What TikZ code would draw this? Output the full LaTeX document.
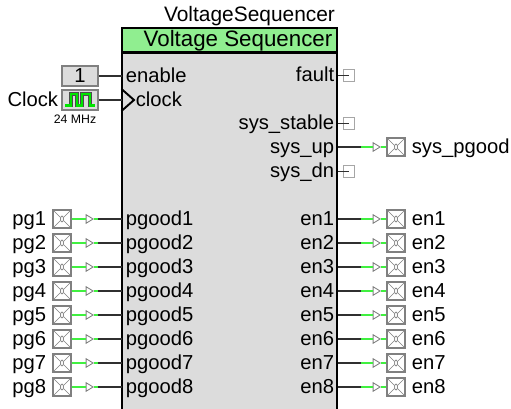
\documentclass[tikz,border=0pt]{standalone}
\usepackage{fontspec}
\setmainfont{Liberation Sans}
\usetikzlibrary{shapes.geometric}
\definecolor{blockgray}{HTML}{DCDCDC}
\definecolor{headgreen}{HTML}{90EE90}
\definecolor{wiregreen}{HTML}{40F040}
\definecolor{wiregray}{HTML}{303030}
\definecolor{pingray}{HTML}{808080}
\tikzset{
  pintext/.style={font=\fontsize{11.5pt}{13pt}\selectfont,inner ysep=0,text height=.3cm,text depth=.04cm},
  leftname/.style={pintext,anchor=west,inner xsep=.08cm},
  rightname/.style={pintext,anchor=east,inner xsep=.06cm},
  pinbox/.style={rectangle,draw=pingray,line width=.7pt,fill=white,minimum size=.36cm,inner sep=0,label distance=.03cm,
    label={[pintext]#1},
    path picture={
      \draw[pingray,line width=.35pt] (path picture bounding box.north west) -- (path picture bounding box.south east);
      \draw[pingray,line width=.35pt] (path picture bounding box.south west) -- (path picture bounding box.north east);
      \draw[pingray,line width=.4pt,fill=white] (path picture bounding box.center) ellipse (.03cm and .06cm);
    }},
  stubbox/.style={rectangle,draw=pingray!70,line width=.5pt,fill=white,minimum size=.23cm,inner sep=0},
  srcbox/.style={rectangle,draw=pingray,line width=.7pt,fill=blockgray,minimum width=.72cm,minimum height=.4cm,inner sep=0},
  bufshape/.style={isosceles triangle,isosceles triangle stretches,draw=pingray,line width=.5pt,fill=white,minimum width=.17cm,minimum height=.14cm,inner sep=0},
  greenwire/.style={wiregreen,line width=.75pt},
  darkwire/.style={wiregray,line width=.75pt},
}
\begin{document}
\begin{tikzpicture}
\path[use as bounding box,clip] (0,0) rectangle (10.22cm,-8.18cm);

%-----------------------------------------------------
\node at(4.59cm,-1.04cm) [rectangle,draw=black,line width=1.1pt,fill=blockgray,minimum width=4.31cm,minimum height=8.5cm,inner sep=0,anchor=north] (block) {};
\node at(4.59cm,-.8cm) [rectangle,draw=black,line width=1.1pt,fill=headgreen,minimum width=4.31cm,minimum height=.48cm,inner sep=0,font=\fontsize{12.7pt}{14pt}\selectfont,text height=.3cm,text depth=.03cm] (head) {\hspace*{.34cm}Voltage Sequencer};
\node at(4.99cm,-.33cm) [font=\fontsize{11.9pt}{14pt}\selectfont,inner sep=0] (title) {VoltageSequencer};

%-----------------------------------------------------
\node at(1.6cm,-1.52cm) [srcbox,font=\fontsize{11.5pt}{13pt}\selectfont] (one) {1};
\node at(2.43cm,-1.52cm) [leftname] (enable) {enable};
\draw [darkwire] (one) -- (enable);

\node at(1.6cm,-2cm) [srcbox,label={[pintext,inner xsep=.04cm,label distance=.02cm]left:Clock},label={[font=\fontsize{7pt}{8pt}\selectfont,inner sep=0,xshift=-.1cm,yshift=-.08cm]below:24 MHz}] (clk) {};
\draw [black!70,line width=1.9pt] (1.3cm,-2.11cm) -- (1.42cm,-2.11cm) -- (1.42cm,-1.88cm) -- (1.54cm,-1.88cm) -- (1.54cm,-2.11cm) -- (1.64cm,-2.11cm) -- (1.64cm,-1.88cm) -- (1.8cm,-1.88cm) -- (1.8cm,-2.11cm) -- (1.9cm,-2.11cm);
\draw [green!90!black,line width=1.3pt] (1.3cm,-2.11cm) -- (1.42cm,-2.11cm) -- (1.42cm,-1.88cm) -- (1.54cm,-1.88cm) -- (1.54cm,-2.11cm) -- (1.64cm,-2.11cm) -- (1.64cm,-1.88cm) -- (1.8cm,-1.88cm) -- (1.8cm,-2.11cm) -- (1.9cm,-2.11cm);
\node at(2.68cm,-2cm) [leftname,inner xsep=.03cm] (clock) {clock};
\coordinate (clkpin) at (2.43cm,-2cm);
\draw [darkwire] (clk) -- (clkpin);
\draw [black,line width=1.1pt] (2.43cm,-1.78cm) -- (2.68cm,-2cm) -- (2.43cm,-2.22cm);

%-----------------------------------------------------
\node at(6.75cm,-1.51cm) [rightname] (fault) {fault};
\node at(6.98cm,-1.51cm) [stubbox] (faultpin) {};
\draw [darkwire] (fault.east) -- (faultpin.center);

\node at(6.75cm,-2.47cm) [rightname] (stable) {sys\_stable};
\node at(6.98cm,-2.47cm) [stubbox] (stablepin) {};
\draw [darkwire] (stable.east) -- (stablepin.center);

\node at(6.75cm,-3.43cm) [rightname] (sysdn) {sys\_dn};
\node at(6.98cm,-3.43cm) [stubbox] (sysdnpin) {};
\draw [darkwire] (sysdn.east) -- (sysdnpin.center);

\node at(6.75cm,-2.94cm) [rightname] (sysup) {sys\_up};
\coordinate (sysupjn) at (7.22cm,-2.94cm);
\node at(7.51cm,-2.94cm) [bufshape] (sysupbuf) {};
\node at(7.92cm,-2.94cm) [pinbox=right:sys\_pgood] (sysuppin) {};
\draw [darkwire] (sysup.east) -- (sysupjn);
\draw [greenwire] (sysupjn) -- (sysupbuf.west) (sysupbuf.east) -- (sysuppin);

%-----------------------------------------------------
\node at(1.24cm,-4.38cm) [pinbox=left:pg1] (pgpin1) {};
\node at(1.77cm,-4.38cm) [bufshape] (pgbuf1) {};
\coordinate (pgjn1) at (1.96cm,-4.38cm);
\node at(2.43cm,-4.38cm) [leftname] (pgood1) {pgood1};
\draw [greenwire] (pgpin1) -- (pgbuf1.west) (pgbuf1.east) -- (pgjn1);
\draw [darkwire] (pgjn1) -- (pgood1);

\node at(1.24cm,-4.86cm) [pinbox=left:pg2] (pgpin2) {};
\node at(1.77cm,-4.86cm) [bufshape] (pgbuf2) {};
\coordinate (pgjn2) at (1.96cm,-4.86cm);
\node at(2.43cm,-4.86cm) [leftname] (pgood2) {pgood2};
\draw [greenwire] (pgpin2) -- (pgbuf2.west) (pgbuf2.east) -- (pgjn2);
\draw [darkwire] (pgjn2) -- (pgood2);

\node at(1.24cm,-5.34cm) [pinbox=left:pg3] (pgpin3) {};
\node at(1.77cm,-5.34cm) [bufshape] (pgbuf3) {};
\coordinate (pgjn3) at (1.96cm,-5.34cm);
\node at(2.43cm,-5.34cm) [leftname] (pgood3) {pgood3};
\draw [greenwire] (pgpin3) -- (pgbuf3.west) (pgbuf3.east) -- (pgjn3);
\draw [darkwire] (pgjn3) -- (pgood3);

\node at(1.24cm,-5.82cm) [pinbox=left:pg4] (pgpin4) {};
\node at(1.77cm,-5.82cm) [bufshape] (pgbuf4) {};
\coordinate (pgjn4) at (1.96cm,-5.82cm);
\node at(2.43cm,-5.82cm) [leftname] (pgood4) {pgood4};
\draw [greenwire] (pgpin4) -- (pgbuf4.west) (pgbuf4.east) -- (pgjn4);
\draw [darkwire] (pgjn4) -- (pgood4);

\node at(1.24cm,-6.3cm) [pinbox=left:pg5] (pgpin5) {};
\node at(1.77cm,-6.3cm) [bufshape] (pgbuf5) {};
\coordinate (pgjn5) at (1.96cm,-6.3cm);
\node at(2.43cm,-6.3cm) [leftname] (pgood5) {pgood5};
\draw [greenwire] (pgpin5) -- (pgbuf5.west) (pgbuf5.east) -- (pgjn5);
\draw [darkwire] (pgjn5) -- (pgood5);

\node at(1.24cm,-6.78cm) [pinbox=left:pg6] (pgpin6) {};
\node at(1.77cm,-6.78cm) [bufshape] (pgbuf6) {};
\coordinate (pgjn6) at (1.96cm,-6.78cm);
\node at(2.43cm,-6.78cm) [leftname] (pgood6) {pgood6};
\draw [greenwire] (pgpin6) -- (pgbuf6.west) (pgbuf6.east) -- (pgjn6);
\draw [darkwire] (pgjn6) -- (pgood6);

\node at(1.24cm,-7.26cm) [pinbox=left:pg7] (pgpin7) {};
\node at(1.77cm,-7.26cm) [bufshape] (pgbuf7) {};
\coordinate (pgjn7) at (1.96cm,-7.26cm);
\node at(2.43cm,-7.26cm) [leftname] (pgood7) {pgood7};
\draw [greenwire] (pgpin7) -- (pgbuf7.west) (pgbuf7.east) -- (pgjn7);
\draw [darkwire] (pgjn7) -- (pgood7);

\node at(1.24cm,-7.74cm) [pinbox=left:pg8] (pgpin8) {};
\node at(1.77cm,-7.74cm) [bufshape] (pgbuf8) {};
\coordinate (pgjn8) at (1.96cm,-7.74cm);
\node at(2.43cm,-7.74cm) [leftname] (pgood8) {pgood8};
\draw [greenwire] (pgpin8) -- (pgbuf8.west) (pgbuf8.east) -- (pgjn8);
\draw [darkwire] (pgjn8) -- (pgood8);

%-----------------------------------------------------
\node at(6.75cm,-4.38cm) [rightname] (en1) {en1};
\coordinate (enjn1) at (7.22cm,-4.38cm);
\node at(7.51cm,-4.38cm) [bufshape] (enbuf1) {};
\node at(7.92cm,-4.38cm) [pinbox=right:en1] (enpin1) {};
\draw [darkwire] (en1.east) -- (enjn1);
\draw [greenwire] (enjn1) -- (enbuf1.west) (enbuf1.east) -- (enpin1);

\node at(6.75cm,-4.86cm) [rightname] (en2) {en2};
\coordinate (enjn2) at (7.22cm,-4.86cm);
\node at(7.51cm,-4.86cm) [bufshape] (enbuf2) {};
\node at(7.92cm,-4.86cm) [pinbox=right:en2] (enpin2) {};
\draw [darkwire] (en2.east) -- (enjn2);
\draw [greenwire] (enjn2) -- (enbuf2.west) (enbuf2.east) -- (enpin2);

\node at(6.75cm,-5.34cm) [rightname] (en3) {en3};
\coordinate (enjn3) at (7.22cm,-5.34cm);
\node at(7.51cm,-5.34cm) [bufshape] (enbuf3) {};
\node at(7.92cm,-5.34cm) [pinbox=right:en3] (enpin3) {};
\draw [darkwire] (en3.east) -- (enjn3);
\draw [greenwire] (enjn3) -- (enbuf3.west) (enbuf3.east) -- (enpin3);

\node at(6.75cm,-5.82cm) [rightname] (en4) {en4};
\coordinate (enjn4) at (7.22cm,-5.82cm);
\node at(7.51cm,-5.82cm) [bufshape] (enbuf4) {};
\node at(7.92cm,-5.82cm) [pinbox=right:en4] (enpin4) {};
\draw [darkwire] (en4.east) -- (enjn4);
\draw [greenwire] (enjn4) -- (enbuf4.west) (enbuf4.east) -- (enpin4);

\node at(6.75cm,-6.3cm) [rightname] (en5) {en5};
\coordinate (enjn5) at (7.22cm,-6.3cm);
\node at(7.51cm,-6.3cm) [bufshape] (enbuf5) {};
\node at(7.92cm,-6.3cm) [pinbox=right:en5] (enpin5) {};
\draw [darkwire] (en5.east) -- (enjn5);
\draw [greenwire] (enjn5) -- (enbuf5.west) (enbuf5.east) -- (enpin5);

\node at(6.75cm,-6.78cm) [rightname] (en6) {en6};
\coordinate (enjn6) at (7.22cm,-6.78cm);
\node at(7.51cm,-6.78cm) [bufshape] (enbuf6) {};
\node at(7.92cm,-6.78cm) [pinbox=right:en6] (enpin6) {};
\draw [darkwire] (en6.east) -- (enjn6);
\draw [greenwire] (enjn6) -- (enbuf6.west) (enbuf6.east) -- (enpin6);

\node at(6.75cm,-7.26cm) [rightname] (en7) {en7};
\coordinate (enjn7) at (7.22cm,-7.26cm);
\node at(7.51cm,-7.26cm) [bufshape] (enbuf7) {};
\node at(7.92cm,-7.26cm) [pinbox=right:en7] (enpin7) {};
\draw [darkwire] (en7.east) -- (enjn7);
\draw [greenwire] (enjn7) -- (enbuf7.west) (enbuf7.east) -- (enpin7);

\node at(6.75cm,-7.74cm) [rightname] (en8) {en8};
\coordinate (enjn8) at (7.22cm,-7.74cm);
\node at(7.51cm,-7.74cm) [bufshape] (enbuf8) {};
\node at(7.92cm,-7.74cm) [pinbox=right:en8] (enpin8) {};
\draw [darkwire] (en8.east) -- (enjn8);
\draw [greenwire] (enjn8) -- (enbuf8.west) (enbuf8.east) -- (enpin8);

\end{tikzpicture}
\end{document}
